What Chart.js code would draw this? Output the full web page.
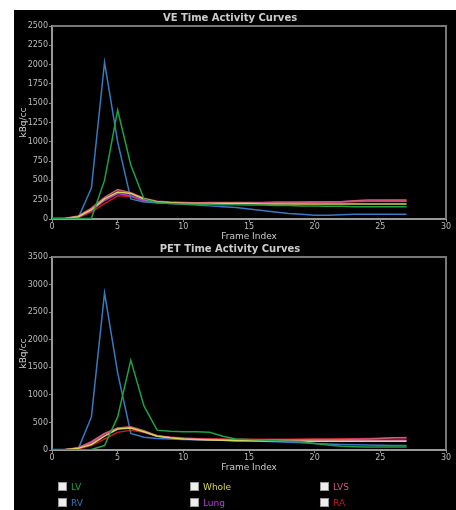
<!DOCTYPE html>
<html>
<head>
<meta charset="utf-8">
<script src="https://cdn.jsdelivr.net/npm/chart.js@4"></script>
<style>
  body { margin: 0; background: #fff; }
  #wrap { position: absolute; left: 14px; top: 10px; width: 442px; height: 500px; background: #000; }
  .cbox { position: absolute; left: 0; width: 442px; height: 236px; }
  #legend { position: absolute; left: 0; top: 470px; width: 442px; height: 30px; font: 9px "DejaVu Sans"; }
  .item { position: absolute; height: 12px; line-height: 12px; }
  .item span.sw { display: inline-block; width: 7px; height: 7px; background: #eee; border: 1px solid #999; vertical-align: -1px; margin-right: 4px; }
</style>
</head>
<body>
<div id="wrap">
  <div class="cbox" style="top:0px"><canvas id="c1"></canvas></div>
  <div class="cbox" style="top:231px"><canvas id="c2"></canvas></div>
  <div id="legend"></div>
</div>
<script>
const frames = Array.from({ length: 28 }, (_, i) => i);
const seriesNames = ['LV', 'Whole', 'LVS', 'RV', 'Lung', 'RA'];
const seriesColors = ['#22a046', '#d6d45a', '#d05a78', '#3a78c0', '#b044d0', '#c01c1c'];

// top chart (max 2500)
const veLV    = [5,5,5,10,500,1410,700,260,210,200,195,190,190,185,185,180,180,175,175,170,170,165,165,160,160,160,160,160];
const veWhole = [0,5,30,120,260,350,330,260,220,210,205,200,200,200,200,200,195,195,195,195,195,195,195,195,195,195,195,195];
const veLVS   = [0,10,40,140,280,380,340,270,230,220,215,210,210,210,210,210,210,210,215,215,220,220,225,235,245,245,245,245];
const veRV    = [10,10,15,400,2030,1000,260,220,210,200,190,180,170,160,150,130,110,90,70,60,50,50,55,60,60,60,60,60];
const veLung  = [0,5,25,110,240,330,300,240,215,210,210,210,215,215,215,215,215,220,220,220,225,225,225,230,230,230,230,230];
const veRA    = [0,5,20,90,200,300,290,230,210,205,205,205,205,205,205,205,210,210,210,215,215,220,220,225,230,235,240,240];

// bottom chart (max 3500)
const petLV    = [5,5,5,10,80,600,1630,800,360,340,330,330,320,250,200,190,180,170,160,150,120,90,70,60,55,55,55,55];
const petWhole = [0,5,30,100,250,380,400,330,250,220,200,190,180,175,170,170,165,165,160,160,160,160,160,160,160,160,160,160];
const petLVS   = [0,10,40,150,300,400,420,350,260,230,210,200,195,190,185,185,185,185,185,185,190,190,190,195,200,210,220,220];
const petRV    = [10,10,20,600,2850,1400,300,230,210,200,190,185,180,175,170,165,160,150,140,130,120,110,100,95,90,85,80,80];
const petLung  = [0,5,35,130,290,390,400,330,250,220,200,190,185,180,175,175,175,175,175,175,175,175,175,175,175,175,175,175];
const petRA    = [0,5,20,80,200,320,360,320,260,230,220,210,205,200,195,195,195,195,195,200,200,200,205,205,210,215,220,225];

const frameBox = {
  id: 'frameBox',
  afterDraw(chart) {
    const a = chart.chartArea, ctx = chart.ctx;
    ctx.save();
    ctx.strokeStyle = '#777';
    ctx.lineWidth = 2;
    ctx.beginPath();
    ctx.moveTo(a.left, a.top);
    ctx.lineTo(a.right, a.top);
    ctx.lineTo(a.right, a.bottom);
    ctx.stroke();
    ctx.restore();
  }
};

function makeChart(id, title, arrays, yMax, yStep) {
  return new Chart(document.getElementById(id), {
    type: 'line',
    data: {
      datasets: arrays.map((arr, i) => ({
        label: seriesNames[i],
        data: arr.map((v, j) => ({ x: frames[j], y: v })),
        borderColor: seriesColors[i],
        borderWidth: 1.5,
        pointRadius: 0,
        tension: 0
      }))
    },
    options: {
      responsive: true,
      maintainAspectRatio: false,
      animation: false,
      layout: { padding: { left: 0, right: 10, top: 0, bottom: 0 } },
      plugins: {
        legend: { display: false },
        tooltip: { enabled: false },
        title: {
          display: true,
          text: title,
          color: '#ccc',
          font: { family: 'DejaVu Sans', size: 10 },
          padding: { top: 2, bottom: 2 }
        }
      },
      scales: {
        x: {
          type: 'linear',
          min: 0, max: 30,
          afterFit: s => { s.height = 27; },
          ticks: { stepSize: 5, color: '#bbb', font: { family: 'DejaVu Sans', size: 8 }, padding: 0 },
          grid: { display: true, drawOnChartArea: false, tickLength: 3, color: '#888' },
          border: { display: true, color: '#999', width: 2 },
          title: { display: true, text: 'Frame Index', color: '#ccc', font: { family: 'DejaVu Sans', size: 9 }, padding: { top: 0, bottom: 4 } }
        },
        y: {
          min: 0, max: yMax,
          afterFit: s => { s.width = 38; },
          ticks: { stepSize: yStep, color: '#bbb', font: { family: 'DejaVu Sans', size: 8 }, padding: 1, callback: v => String(v) },
          grid: { display: true, drawOnChartArea: false, tickLength: 3, color: '#888' },
          border: { display: true, color: '#999', width: 2 },
          title: { display: true, text: 'kBq/cc', color: '#ccc', font: { family: 'DejaVu Sans', size: 9 }, padding: 4 }
        }
      }
    },
    plugins: [frameBox]
  });
}

makeChart('c1', 'VE Time Activity Curves', [veLV, veWhole, veLVS, veRV, veLung, veRA], 2500, 250);
makeChart('c2', 'PET Time Activity Curves', [petLV, petWhole, petLVS, petRV, petLung, petRA], 3500, 500);

// legend, 3 columns x 2 rows
const legend = document.getElementById('legend');
const colX = [44, 176, 306];
seriesNames.forEach((name, i) => {
  const d = document.createElement('div');
  d.className = 'item';
  d.style.left = colX[i % 3] + 'px';
  d.style.top = (i < 3 ? 1 : 17) + 'px';
  d.innerHTML = '<span class="sw"></span>';
  const t = document.createElement('span');
  t.textContent = name;
  t.style.color = seriesColors[i];
  d.appendChild(t);
  legend.appendChild(d);
});
</script>
</body>
</html>
